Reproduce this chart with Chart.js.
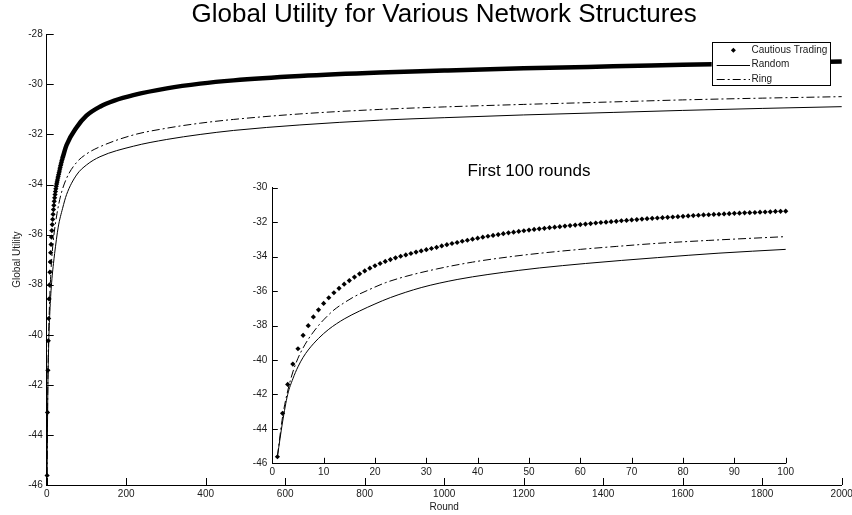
<!DOCTYPE html>
<html><head><meta charset="utf-8">
<script src="https://cdn.jsdelivr.net/npm/chart.js@4.4.1/dist/chart.umd.min.js"></script>
<style>
html,body{margin:0;padding:0;background:#fff;}
#wrap{position:relative;width:852px;height:515px;}
canvas{position:absolute;left:0;top:0;}
</style></head><body>
<div id="wrap"><canvas id="main" width="852" height="515"></canvas><canvas id="inset" width="852" height="515"></canvas></div>
<script>
// ---------- data ----------
const seriesNames = ['Cautious Trading', 'Random', 'Ring'];

// inset: first 100 rounds
const rounds100 = [1,2,3,4,5,6,7,8,9,10,11,12,13,14,15,16,17,18,19,20,21,22,23,24,25,26,27,28,29,30,
  31,32,33,34,35,36,37,38,39,40,41,42,43,44,45,46,47,48,49,50,51,52,53,54,55,56,57,58,59,60,
  61,62,63,64,65,66,67,68,69,70,71,72,73,74,75,76,77,78,79,80,81,82,83,84,85,86,87,88,89,90,
  91,92,93,94,95,96,97,98,99,100];
const cautiousFirst100 = [-45.62,-43.10,-41.42,-40.24,-39.35,-38.57,-38.01,-37.50,-37.09,-36.72,
  -36.39,-36.10,-35.84,-35.60,-35.39,-35.19,-35.00,-34.83,-34.67,-34.53,
  -34.40,-34.28,-34.17,-34.07,-33.98,-33.90,-33.82,-33.74,-33.67,-33.60,
  -33.53,-33.46,-33.38,-33.31,-33.24,-33.18,-33.11,-33.05,-32.99,-32.93,
  -32.87,-32.82,-32.77,-32.72,-32.67,-32.62,-32.58,-32.54,-32.50,-32.46,
  -32.42,-32.39,-32.36,-32.32,-32.29,-32.26,-32.23,-32.20,-32.17,-32.14,
  -32.11,-32.08,-32.05,-32.02,-32.00,-31.97,-31.95,-31.92,-31.90,-31.87,
  -31.85,-31.82,-31.80,-31.78,-31.76,-31.74,-31.72,-31.70,-31.68,-31.66,
  -31.64,-31.62,-31.60,-31.58,-31.57,-31.55,-31.54,-31.52,-31.51,-31.49,
  -31.48,-31.46,-31.45,-31.44,-31.42,-31.41,-31.40,-31.38,-31.37,-31.36];
const randomRoundsInset = [1,2,3,4,5,6,7,9,11,14,17,20,23,29,36,42,48,52,61,75,87,100];
const randomInset = [-45.6,-43.6,-42.0,-41.1,-40.4,-39.85,-39.42,-38.75,-38.22,-37.62,-37.16,-36.75,
  -36.38,-35.80,-35.33,-35.04,-34.80,-34.66,-34.40,-34.06,-33.80,-33.58];
const ringRoundsInset = [1,2,3,4,5,6,7,8,9,10,12,14,16,19,22,26,32,39,46,52,60,67,75,85,100];
const ringInset = [-45.6,-43.3,-41.8,-40.7,-39.9,-39.3,-38.8,-38.38,-38.0,-37.67,-37.1,-36.68,-36.32,
  -35.9,-35.52,-35.15,-34.72,-34.32,-34.02,-33.81,-33.58,-33.41,-33.23,-33.06,-32.84];

// main plot: rounds 0-2000 (early dots visible individually up to ~round 40)
const mainDotCount = 40;
const cautiousRoundsMain = [40,50,75,100,134,170,218,302,386,470,637,838,1000,1200,1425,1600,1800,2000];
const cautiousMain = [-32.93,-32.42,-31.72,-31.25,-30.89,-30.65,-30.43,-30.16,-29.97,-29.84,-29.67,-29.53,
  -29.45,-29.36,-29.28,-29.22,-29.15,-29.09];
const randomRoundsMain = [1,2,3,4,5,6,7,9,11,14,17,20,29,40,50,75,100,134,218,302,386,470,637,838,1000,1200,1425,1600,1800,2000];
const randomMain = [-45.6,-43.6,-42.0,-41.1,-40.4,-39.85,-39.42,-38.75,-38.22,-37.62,-37.16,-36.75,
  -35.7,-34.95,-34.4,-33.62,-33.22,-32.89,-32.47,-32.2,-32.0,-31.84,-31.62,-31.43,-31.33,-31.22,-31.12,-31.04,-30.96,-30.89];
const ringRoundsMain = [1,2,3,4,5,6,7,8,9,10,12,14,16,19,26,35,50,75,100,134,218,302,386,470,637,838,1000,1200,1425,1600,1800,2000];
const ringMain = [-45.6,-43.3,-41.8,-40.7,-39.9,-39.3,-38.8,-38.38,-38.0,-37.67,-37.1,-36.68,-36.32,-35.9,
  -35.15,-34.45,-33.75,-33.12,-32.78,-32.49,-32.02,-31.75,-31.55,-31.40,-31.18,-31.0,-30.90,-30.80,-30.70,-30.62,-30.55,-30.49];

const mainXTicks = [0,200,400,600,800,1000,1200,1400,1600,1800,2000];
const mainYTicks = [-46,-44,-42,-40,-38,-36,-34,-32,-30,-28];
const insetXTicks = [0,10,20,30,40,50,60,70,80,90,100];
const insetYTicks = [-46,-44,-42,-40,-38,-36,-34,-32,-30];

// ---------- helpers ----------
const pts = (xs, ys) => xs.map((x, i) => ({x: x, y: ys[i]}));
const FONT = "'Liberation Sans', Arial, Helvetica, sans-serif";
const TXT = '#1a1a1a';
const RING_DASH = [8, 3, 2, 3];

const inwardTicks = {
  id: 'inwardTicks',
  afterDraw(chart, args, opts) {
    const {ctx, chartArea, scales} = chart;
    const len = opts.length || 6;
    ctx.save();
    ctx.strokeStyle = '#000';
    ctx.lineWidth = 1;
    ctx.beginPath();
    scales.x.ticks.forEach(t => {
      const px = Math.round(scales.x.getPixelForValue(t.value)) + 0.5;
      ctx.moveTo(px, chartArea.bottom); ctx.lineTo(px, chartArea.bottom - len);
    });
    scales.y.ticks.forEach(t => {
      const py = Math.round(scales.y.getPixelForValue(t.value)) + 0.5;
      ctx.moveTo(chartArea.left, py); ctx.lineTo(chartArea.left + len, py);
    });
    ctx.stroke();
    ctx.restore();
  }
};

function drawDiamond(ctx, x, y, r) {
  ctx.beginPath();
  ctx.moveTo(x, y - r); ctx.lineTo(x + r, y); ctx.lineTo(x, y + r); ctx.lineTo(x - r, y);
  ctx.closePath(); ctx.fill();
}

const boxLegend = {
  id: 'boxLegend',
  afterDatasetsDraw(chart) {
    const {ctx, chartArea} = chart;
    const w = 118.3, h = 43.3;
    const x = chartArea.right - 130, y = chartArea.top + 7.4;
    ctx.save();
    ctx.fillStyle = '#fff';
    ctx.fillRect(x, y, w, h);
    ctx.strokeStyle = '#000';
    ctx.lineWidth = 1;
    ctx.strokeRect(Math.round(x) + 0.5, Math.round(y) + 0.5, Math.round(w), Math.round(h));
    const rows = [y + 8.5, y + 22.8, y + 37.4];
    const sx0 = x + 5, sx1 = x + 38.3, tx = x + 39.8;
    ctx.fillStyle = '#000';
    drawDiamond(ctx, x + 21.7, rows[0], 2.5);
    ctx.beginPath(); ctx.moveTo(sx0, Math.round(rows[1]) + 0.5); ctx.lineTo(sx1, Math.round(rows[1]) + 0.5); ctx.stroke();
    ctx.setLineDash(RING_DASH);
    ctx.beginPath(); ctx.moveTo(sx0, Math.round(rows[2]) + 0.5); ctx.lineTo(sx1, Math.round(rows[2]) + 0.5); ctx.stroke();
    ctx.setLineDash([]);
    ctx.fillStyle = TXT;
    ctx.font = '10px ' + FONT;
    ctx.textBaseline = 'middle';
    ctx.textAlign = 'left';
    seriesNames.forEach((n, i) => ctx.fillText(n, tx, rows[i]));
    ctx.restore();
  }
};

function axisCommon(ticksArr, pad) {
  return {
    type: 'linear',
    min: ticksArr[0], max: ticksArr[ticksArr.length - 1],
    afterBuildTicks: s => { s.ticks = ticksArr.map(v => ({value: v})); },
    ticks: {padding: pad, color: TXT, font: {family: FONT, size: 10}, maxRotation: 0, autoSkip: false,
      callback: v => String(v)},
    grid: {display: false, drawTicks: false},
    border: {display: true, color: '#000', width: 1}
  };
}

const lineStyle = (extra) => Object.assign({borderColor: '#000', borderWidth: 1, pointRadius: 0,
  cubicInterpolationMode: 'monotone', clip: false}, extra || {});
const dotStyle = {showLine: false, pointStyle: 'rectRot', pointRadius: 2.6, pointBackgroundColor: '#000',
  pointBorderWidth: 0, clip: false};

// ---------- main chart ----------
const mainX = axisCommon(mainXTicks, 3);
mainX.title = {display: true, text: 'Round', color: TXT, font: {family: FONT, size: 10}, padding: {top: 0, bottom: 1.5}};
mainX.afterFit = s => { s.height = 30; s.paddingLeft = 0; s.paddingRight = 0; };
const mainY = axisCommon(mainYTicks, 4);
mainY.title = {display: true, text: 'Global Utility', color: TXT, font: {family: FONT, size: 10}, padding: {top: 11.2, bottom: 0}};
mainY.afterFit = s => { s.width = 46.7; s.paddingTop = 0; s.paddingBottom = 0; };

new Chart(document.getElementById('main'), {
  type: 'line',
  data: {datasets: [
    Object.assign({label: seriesNames[0], data: pts(rounds100.slice(0, mainDotCount), cautiousFirst100.slice(0, mainDotCount))}, dotStyle),
    lineStyle({label: seriesNames[0] + ' (dense)', data: pts(cautiousRoundsMain, cautiousMain), borderWidth: 4.5}),
    lineStyle({label: seriesNames[1], data: pts(randomRoundsMain, randomMain)}),
    lineStyle({label: seriesNames[2], data: pts(ringRoundsMain, ringMain), borderDash: RING_DASH})
  ]},
  options: {
    responsive: false, animation: false, devicePixelRatio: 1,
    layout: {padding: {left: 0, right: 10.3, top: 0, bottom: 0}},
    plugins: {
      legend: {display: false}, tooltip: {enabled: false},
      title: {display: true, text: 'Global Utility for Various Network Structures', fullSize: false, color: '#000',
        font: {family: FONT, size: 26, weight: 'normal', lineHeight: 1}, padding: {top: 1.4, bottom: 6.9}},
      inwardTicks: {length: 7}
    },
    scales: {x: mainX, y: mainY}
  },
  plugins: [inwardTicks, boxLegend]
});

// ---------- inset chart ----------
const insX = axisCommon(insetXTicks, 3);
insX.afterFit = s => { s.height = 20; s.paddingLeft = 0; s.paddingRight = 0; };
const insY = axisCommon(insetYTicks, 5);
insY.afterFit = s => { s.width = 40; s.paddingTop = 0; s.paddingBottom = 0; };

new Chart(document.getElementById('inset'), {
  type: 'line',
  data: {datasets: [
    Object.assign({label: seriesNames[0], data: pts(rounds100, cautiousFirst100)}, dotStyle),
    lineStyle({label: seriesNames[1], data: pts(randomRoundsInset, randomInset)}),
    lineStyle({label: seriesNames[2], data: pts(ringRoundsInset, ringInset), borderDash: RING_DASH})
  ]},
  options: {
    responsive: false, animation: false, devicePixelRatio: 1,
    layout: {padding: {left: 232.3, right: 66.3, top: 150, bottom: 31.7}},
    plugins: {
      legend: {display: false}, tooltip: {enabled: false},
      title: {display: true, text: 'First 100 rounds', fullSize: false, color: '#000',
        font: {family: FONT, size: 17, weight: 'normal', lineHeight: 1}, padding: {top: 12.7, bottom: 8}},
      inwardTicks: {length: 5.5}
    },
    scales: {x: insX, y: insY}
  },
  plugins: [inwardTicks]
});
</script>
</body></html>
